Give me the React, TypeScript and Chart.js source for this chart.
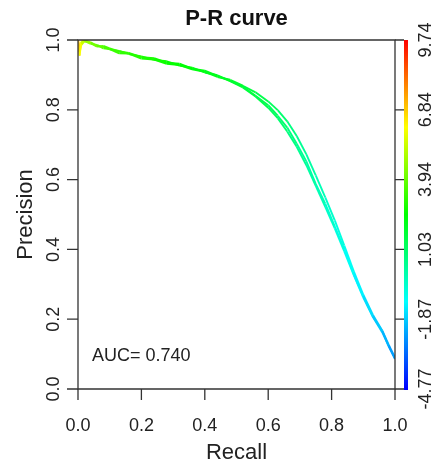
import React, { useEffect, useRef } from "react";
import { Chart, registerables } from "chart.js";

Chart.register(...registerables);

// ---- data ----
const recall = [
  0, 0.005, 0.01, 0.02, 0.04, 0.06, 0.08, 0.1, 0.13, 0.16, 0.2, 0.24, 0.28, 0.32,
  0.36, 0.4, 0.44, 0.48, 0.52, 0.56, 0.6, 0.63, 0.66, 0.69, 0.72, 0.75, 0.78,
  0.81, 0.84, 0.87, 0.9, 0.93, 0.96, 0.98, 1.0,
];
const precisionRun1 = [
  1.0, 0.955, 0.99, 1.0, 0.993, 0.983, 0.981, 0.973, 0.969, 0.96, 0.953, 0.943,
  0.939, 0.927, 0.921, 0.907, 0.899, 0.883, 0.867, 0.84, 0.813, 0.783, 0.749,
  0.703, 0.653, 0.588, 0.531, 0.466, 0.401, 0.328, 0.266, 0.208, 0.166, 0.123, 0.088,
];
const precisionRun2 = [
  1.0, 0.97, 0.995, 0.998, 0.989, 0.986, 0.976, 0.974, 0.962, 0.961, 0.947, 0.944,
  0.932, 0.928, 0.916, 0.909, 0.894, 0.886, 0.869, 0.85, 0.824, 0.799, 0.767,
  0.725, 0.673, 0.612, 0.549, 0.483, 0.411, 0.337, 0.27, 0.213, 0.167, 0.127, 0.09,
];
const precisionRun3 = [
  1.0, 0.965, 0.985, 0.996, 0.991, 0.981, 0.983, 0.976, 0.967, 0.963, 0.951, 0.948,
  0.935, 0.932, 0.918, 0.912, 0.897, 0.882, 0.864, 0.838, 0.806, 0.776, 0.738,
  0.694, 0.642, 0.582, 0.522, 0.46, 0.394, 0.326, 0.262, 0.207, 0.162, 0.123, 0.086,
];
const cutoffs = [
  7.0, 6.0, 5.3, 4.6, 4.1, 3.8, 3.5, 3.3, 3.15, 3.0, 2.85, 2.7, 2.55, 2.4, 2.25, 2.1,
  1.95, 1.8, 1.6, 1.4, 1.15, 0.9, 0.65, 0.4, 0.15, -0.1, -0.4, -0.7, -1.0, -1.3,
  -1.6, -1.9, -2.2, -2.5, -2.9,
];
const xTicks = [0, 0.2, 0.4, 0.6, 0.8, 1.0];
const xTickLabels = ["0.0", "0.2", "0.4", "0.6", "0.8", "1.0"];
const yTicks = [0, 0.2, 0.4, 0.6, 0.8, 1.0];
const yTickLabels = ["0.0", "0.2", "0.4", "0.6", "0.8", "1.0"];
const colorKeyTicks = [1.0, 0.8, 0.6, 0.4, 0.2, 0.0];
const colorKeyLabels = ["9.74", "6.84", "3.94", "1.03", "-1.87", "-4.77"];
const cutoffMin = -4.77;
const cutoffMax = 9.74;
const titleText = "P-R curve";
const xLabel = "Recall";
const yLabel = "Precision";
const aucText = "AUC= 0.740";

const FONT = '"Liberation Sans", Arial, Helvetica, sans-serif';

function cutoffColor(c: number): string {
  let t = (c - cutoffMin) / (cutoffMax - cutoffMin);
  t = Math.max(0, Math.min(1, t));
  const hue = (1 - t) * 240;
  return `hsl(${hue.toFixed(1)},100%,50%)`;
}

const decorPlugin = {
  id: "rDecor",
  afterDraw(chart: any) {
    const ctx = chart.ctx as CanvasRenderingContext2D;
    const xs = chart.scales.x;
    const ys = chart.scales.y;
    const x0 = xs.getPixelForValue(0);
    const x1 = xs.getPixelForValue(1);
    const y0 = ys.getPixelForValue(0);
    const y1 = ys.getPixelForValue(1);
    ctx.save();
    ctx.strokeStyle = "#333";
    ctx.lineWidth = 1.3;
    // box
    ctx.beginPath();
    ctx.rect(x0, y1, x1 - x0, y0 - y1);
    ctx.stroke();
    // x ticks
    ctx.beginPath();
    xTicks.forEach((v) => {
      const px = xs.getPixelForValue(v);
      ctx.moveTo(px, y0);
      ctx.lineTo(px, y0 + 11);
    });
    // y ticks
    yTicks.forEach((v) => {
      const py = ys.getPixelForValue(v);
      ctx.moveTo(x0, py);
      ctx.lineTo(x0 - 11, py);
    });
    // color key ticks
    colorKeyTicks.forEach((v) => {
      const py = ys.getPixelForValue(v);
      ctx.moveTo(x1, py);
      ctx.lineTo(x1 + 9, py);
    });
    ctx.stroke();

    // color bar
    const grad = ctx.createLinearGradient(0, y0, 0, y1);
    for (let i = 0; i <= 20; i++) {
      const t = i / 20;
      grad.addColorStop(t, cutoffColor(cutoffMin + t * (cutoffMax - cutoffMin)));
    }
    ctx.fillStyle = grad;
    ctx.fillRect(x1 + 9, y1, 4, y0 - y1 + 1);

    ctx.fillStyle = "#222";
    // x tick labels
    ctx.font = `18px ${FONT}`;
    ctx.textAlign = "center";
    ctx.textBaseline = "alphabetic";
    xTicks.forEach((v, i) => {
      ctx.fillText(xTickLabels[i], xs.getPixelForValue(v), y0 + 42);
    });
    // y tick labels (rotated)
    yTicks.forEach((v, i) => {
      const py = ys.getPixelForValue(v);
      ctx.save();
      ctx.translate(x0 - 19, py);
      ctx.rotate(-Math.PI / 2);
      ctx.fillText(yTickLabels[i], 0, 0);
      ctx.restore();
    });
    // color key labels
    colorKeyTicks.forEach((v, i) => {
      const py = ys.getPixelForValue(v);
      ctx.save();
      ctx.translate(x1 + 36, py);
      ctx.rotate(-Math.PI / 2);
      ctx.fillText(colorKeyLabels[i], 0, 0);
      ctx.restore();
    });
    // AUC
    ctx.textAlign = "left";
    ctx.fillText(aucText, x0 + 14, ys.getPixelForValue(0.079));

    // axis titles
    ctx.font = `22px ${FONT}`;
    ctx.textAlign = "center";
    ctx.fillText(xLabel, (x0 + x1) / 2, y0 + 70);
    ctx.save();
    ctx.translate(x0 - 46, (y0 + y1) / 2);
    ctx.rotate(-Math.PI / 2);
    ctx.fillText(yLabel, 0, 0);
    ctx.restore();

    // title
    ctx.font = `bold 22px ${FONT}`;
    ctx.fillStyle = "#111";
    ctx.fillText(titleText, (x0 + x1) / 2, 25);
    ctx.restore();
  },
};

export default function App() {
  const ref = useRef<HTMLCanvasElement | null>(null);
  useEffect(() => {
    if (!ref.current) return;
    const runs = [precisionRun1, precisionRun2, precisionRun3];
    const chart = new Chart(ref.current, {
      type: "line",
      data: {
        datasets: runs.map((p, k) => ({
          label: `run ${k + 1}`,
          data: recall.map((r, i) => ({ x: r, y: p[i] })),
          borderWidth: 1.9,
          pointRadius: 0,
          fill: false,
          tension: 0,
          borderColor: cutoffColor(cutoffs[0]),
          segment: {
            borderColor: (c: any) => cutoffColor(cutoffs[c.p0DataIndex]),
          },
        })),
      },
      options: {
        responsive: false,
        animation: false,
        layout: { padding: { left: 78, right: 38, top: 40, bottom: 73 } },
        scales: {
          x: { type: "linear", min: 0, max: 1, display: false },
          y: { type: "linear", min: 0, max: 1, display: false },
        },
        plugins: { legend: { display: false }, tooltip: { enabled: false } },
      },
      plugins: [decorPlugin],
    } as any);
    return () => chart.destroy();
  }, []);
  return (
    <div style={{ position: "fixed", left: 0, top: 0, width: 433, height: 462, background: "#fff" }}>
      <canvas ref={ref} width={433} height={462} style={{ width: 433, height: 462 }} />
    </div>
  );
}
